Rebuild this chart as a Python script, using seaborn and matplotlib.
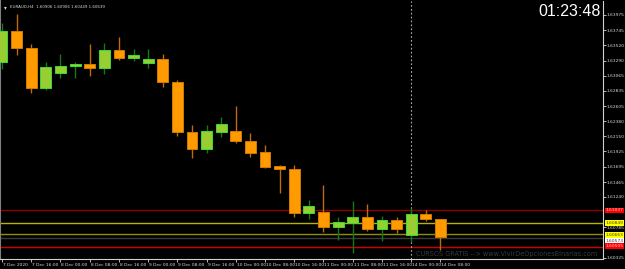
import matplotlib
matplotlib.use("Agg")
import matplotlib.pyplot as plt
import matplotlib.transforms as mtransforms
from matplotlib import font_manager
import seaborn as sns
import numpy as np
import pandas as pd

# ---------------- data ----------------
tick_labels = ["7 Dec 2020", "7 Dec 16:00", "8 Dec 00:00", "8 Dec 08:00", "8 Dec 16:00",
               "9 Dec 00:00", "9 Dec 08:00", "9 Dec 16:00", "10 Dec 00:00", "10 Dec 08:00",
               "10 Dec 16:00", "11 Dec 00:00", "11 Dec 08:00", "11 Dec 16:00",
               "14 Dec 00:00", "14 Dec 08:00"]

opens = [1.63269, 1.63735, 1.63479, 1.62878, 1.63103, 1.63204, 1.63239, 1.63183,
         1.63449, 1.63333, 1.63249, 1.63314, 1.62973, 1.62217, 1.61961, 1.62217,
         1.62232, 1.62081, 1.61916, 1.61705, 1.61660, 1.60995, 1.61010, 1.60793,
         1.60853, 1.60934, 1.60763, 1.60889, 1.60673, 1.60984, 1.60906]
highs = [1.63855, 1.63990, 1.63539, 1.63269, 1.63389, 1.63261, 1.63539, 1.63554,
         1.63649, 1.63464, 1.63471, 1.63389, 1.62998, 1.62322, 1.62322, 1.62442,
         1.62607, 1.62201, 1.62021, 1.61720, 1.61720, 1.61194, 1.61420, 1.60939,
         1.61179, 1.61134, 1.60954, 1.60939, 1.61074, 1.61040, 1.60906]
lows = [1.63163, 1.63374, 1.62803, 1.62848, 1.63028, 1.63028, 1.63058, 1.63088,
        1.63299, 1.63284, 1.63183, 1.62897, 1.62156, 1.61826, 1.61901, 1.62141,
        1.62051, 1.61841, 1.61675, 1.61304, 1.60934, 1.60904, 1.60714, 1.60589,
        1.60402, 1.60733, 1.60583, 1.60694, 1.60568, 1.60879, 1.60449]
closes = [1.63735, 1.63479, 1.62878, 1.63193, 1.63208, 1.63239, 1.63183, 1.63449,
          1.63333, 1.63374, 1.63314, 1.62973, 1.62217, 1.61961, 1.62232, 1.62337,
          1.62081, 1.61901, 1.61690, 1.61660, 1.60995, 1.61104, 1.60793, 1.60859,
          1.60934, 1.60759, 1.60889, 1.60763, 1.60980, 1.60906, 1.60639]

price_ticks = [1.63975, 1.63745, 1.63520, 1.63290, 1.63065, 1.62835, 1.62605, 1.62380,
               1.62150, 1.61925, 1.61695, 1.61465, 1.61240, 1.60785, 1.60325]

level_prices = [1.61037, 1.60849, 1.60679, 1.60631, 1.60484]
level_colors = ["#8b0000", "#b5b500", "#8f8f00", "#3a3a3a", "#d00000"]
tag_prices = [1.61037, 1.60849, 1.60663, 1.60573, 1.60505]
tag_colors = ["#ff0000", "#ffff00", "#ffff00", "#ffffff", "#ff0000"]
tag_text_colors = ["#ffd0d0", "#404000", "#404000", "#303030", "#ffd0d0"]

symbol_title = "EURAUD,H4  1.60906 1.60906 1.60449 1.60639"
clock_text = "01:23:48"
watermark = "CURSOS GRATIS --> www.VivirDeOpcionesBinarias.com"

# ---------------- style ----------------
sns.set_theme(style="dark", rc={"axes.facecolor": "black", "figure.facecolor": "black"})
available = {f.name for f in font_manager.fontManager.ttflist}
small_font = "Liberation Sans Narrow" if "Liberation Sans Narrow" in available else "DejaVu Sans"
plt.rcParams["font.family"] = ["DejaVu Sans"]

df = pd.DataFrame({"open": opens, "high": highs, "low": lows, "close": closes})
df["idx"] = np.arange(len(df))
df["bull"] = df["close"] >= df["open"]

fig = plt.figure(figsize=(6.25, 2.69), dpi=100)
fig.patch.set_facecolor("black")
ax = fig.add_axes([0.0, 10 / 269, 603 / 625, 258 / 269])
ax.set_facecolor("black")

bull_body, bull_edge, bull_wick = "#9acd32", "#33e033", "#157a15"
bear_body, bear_edge, bear_wick = "#ff9a00", "#d07a00", "#c06a10"

for _, r in df.iterrows():
    wc = bull_wick if r["bull"] else bear_wick
    ax.vlines(r["idx"], r["low"], r["high"], color=wc, lw=1.0, zorder=2)
for bull, body, edge in [(True, bull_body, bull_edge), (False, bear_body, bear_edge)]:
    sub = df[df["bull"] == bull]
    bottoms = np.minimum(sub["open"], sub["close"])
    heights = np.maximum(np.abs(sub["close"] - sub["open"]), 0.00003)
    ax.bar(sub["idx"], heights, bottom=bottoms, width=0.74, color=body,
           edgecolor=edge, linewidth=0.7, zorder=3)

# horizontal levels
for p, c in zip(level_prices, level_colors):
    ax.axhline(p, color=c, lw=1.0, zorder=1)
# separator
ax.axvline(28, color="#b0b0b0", lw=0.8, ls=(0, (1.5, 2.0)), zorder=1)

ax.set_xlim(-0.14, 41.13)
ax.set_ylim(1.60308, 1.64185)

# y axis on the right
ax.yaxis.tick_right()
ax.set_yticks(price_ticks)
ax.set_yticklabels([f"{v:.5f}" for v in price_ticks])
ax.tick_params(axis="y", colors="#d8d8d8", labelsize=3.2, length=2.0, width=0.6, pad=0.8,
               direction="out", right=True, left=False)
ax.set_xticks(np.arange(0, 31, 2))
ax.set_xticklabels(tick_labels, ha="left")
ax.tick_params(axis="x", colors="#d8d8d8", labelsize=3.2, length=2.5, width=0.6, pad=0.5,
               direction="out", bottom=True)
for lbl in ax.get_xticklabels() + ax.get_yticklabels():
    lbl.set_family(small_font)
for lbl in ax.get_xticklabels():
    lbl.set_transform(lbl.get_transform() + mtransforms.ScaledTranslation(1 / 100, 0, fig.dpi_scale_trans))
ax.grid(False)

ax.spines["top"].set_visible(False)
ax.spines["left"].set_color("#808080")
ax.spines["left"].set_linewidth(1.5)
ax.spines["right"].set_color("#d0d0d0")
ax.spines["right"].set_linewidth(0.8)
ax.spines["bottom"].set_color("#d0d0d0")
ax.spines["bottom"].set_linewidth(0.8)

# price tags on the right axis
trans = mtransforms.blended_transform_factory(ax.transAxes, ax.transData)
for p, bc, tc in zip(tag_prices, tag_colors, tag_text_colors):
    ax.text(1.004, p, f"{p:.5f}", transform=trans, fontsize=3.2, color=tc, va="center", ha="left",
            family=small_font,
            bbox=dict(boxstyle="square,pad=0.2", fc=bc, ec=bc, lw=0), clip_on=False, zorder=5)

# title, clock, watermark
ax.text(0.006, 0.985, "\u25be", transform=ax.transAxes, fontsize=4, color="#d8d8d8", va="top", ha="left")
ax.text(0.016, 0.985, symbol_title, transform=ax.transAxes, fontsize=2.9, color="#d8d8d8",
        va="top", ha="left", family=small_font)
ax.text(0.997, 0.99, clock_text, transform=ax.transAxes, fontsize=11.5, color="white", va="top", ha="right",
        family=["Liberation Sans", "DejaVu Sans"])
ax.text(0.99, 0.006, watermark, transform=ax.transAxes, fontsize=4.7, color="#3a3a3a", va="bottom", ha="right")

fig.savefig("out.png", dpi=100, facecolor="black")
